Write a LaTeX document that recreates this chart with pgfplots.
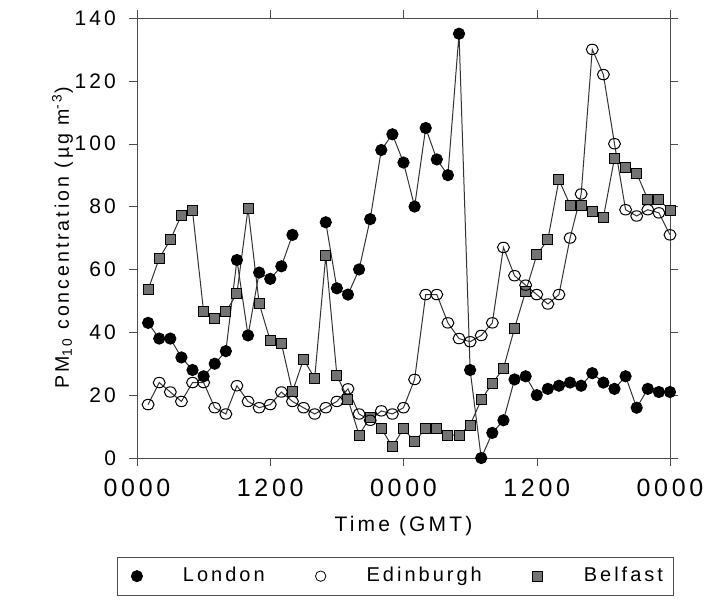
\documentclass[border=0pt]{standalone}
\usepackage{pgfplots}
\pgfplotsset{compat=1.18}
\usepackage{fontspec}
\setmainfont{Liberation Sans}[LetterSpace=15]

\begin{document}
\begin{tikzpicture}
  \useasboundingbox (-68.5pt,-74pt) rectangle (287.5pt,229pt);
  \begin{axis}[
    scale only axis,
    width=266.5pt, height=220pt,
    xmin=0, xmax=48,
    ymin=0, ymax=140,
    xtick={0,12,24,36,48},
    xticklabels={0000,1200,0000,1200,0000},
    ytick={0,20,...,140},
    tick align=outside,
    major tick length=4pt,
    tick style={black!70},
    axis line style={black!70},
    /pgf/number format/assume math mode=true,
    xticklabel style={font=\fontsize{12.5}{14}\selectfont, yshift=-3pt},
    yticklabel style={font=\fontsize{10.5}{12}\selectfont, xshift=-3pt},
    xlabel={Time (GMT)},
    xlabel style={font=\fontsize{10.5}{12}\selectfont, yshift=-3pt},
    ylabel={PM\textsubscript{10} concentration (µg m\textsuperscript{-3})},
    ylabel style={font=\fontsize{9.8}{11}\selectfont, yshift=-6pt},
    unbounded coords=jump,
    clip=false,
    legend columns=3,
    legend style={at={(0.484,-0.225)}, anchor=north, draw=black!70,
      font=\fontsize{10}{12}\selectfont, inner ysep=3pt,
      /tikz/every even column/.append style={column sep=19pt}},
    legend image code/.code={\path[draw=none] (0pt,0pt) -- (28pt,0pt); \draw[#1] plot coordinates {(7pt,0pt)};},
  ]
  \addlegendimage{only marks, mark=*, mark size=2.8pt, mark options={fill=black, draw=black}}
  \addlegendentry{London}
  \addlegendimage{only marks, mark=o, mark size=2.6pt, mark options={fill=white, draw=black}}
  \addlegendentry{Edinburgh}
  \addlegendimage{only marks, mark=square*, mark size=2.5pt, mark options={fill=black!55, draw=black}}
  \addlegendentry{Belfast}

  % Belfast
  \addplot[forget plot, black!80, line width=0.5pt, mark=square*, mark size=2.5pt,
    mark options={fill=black!55, draw=black}]
  coordinates {
    (1,53.5)(2,63.5)(3,69.4)(4,77.3)(5,78.6)(6,46.5)(7,44.4)(8,46.5)(9,52.4)(10,79.4)
    (11,49.2)(12,37.3)(13,36.5)(14,21.1)(15,31.4)(16,25.4)(17,64.3)(18,26.4)(19,18.7)(20,7.3)
    (21,13)(22,9.4)(23,3.6)(24,9.4)(25,5.2)(26,9.4)(27,9.4)(28,7.3)(29,7.3)(30,10.5)
    (31,18.5)(32,23.8)(33,28.5)(34,41.3)(35,53)(36,64.6)(37,69.5)(38,88.5)(39,80.5)(40,80.5)
    (41,78.5)(42,76.5)(43,95.4)(44,92.5)(45,90.6)(46,82.3)(47,82.3)(48,78.7)
  };
  % Edinburgh
  \addplot[forget plot, black!80, line width=0.5pt, mark=o, mark size=2.6pt,
    mark options={fill=white, draw=black, xscale=1.15}]
  coordinates {
    (1,17)(2,24)(3,21)(4,18)(5,24)(6,24)(7,16)(8,14)(9,23)(10,18)
    (11,16)(12,17)(13,21)(14,18)(15,16)(16,14)(17,16)(18,18)(19,22)(20,14)
    (21,12)(22,15)(23,14)(24,16)(25,25)(26,52)(27,52)(28,43)(29,38)(30,37)
    (31,39)(32,43)(33,67)(34,58)(35,55)(36,52)(37,49)(38,52)(39,70)(40,84)
    (41,130)(42,122)(43,100)(44,79)(45,77)(46,79)(47,78)(48,71)
  };
  % London
  \addplot[forget plot, black!80, line width=0.5pt, mark=*, mark size=2.8pt,
    mark options={fill=black, draw=black}]
  coordinates {
    (1,43)(2,38)(3,38)(4,32)(5,28)(6,26)(7,30)(8,34)(9,63)(10,39)
    (11,59)(12,57)(13,61)(14,71)(15,nan)(16,nan)(17,75)(18,54)(19,52)(20,60)
    (21,76)(22,98)(23,103)(24,94)(25,80)(26,105)(27,95)(28,90)(29,135)(30,28)
    (31,0)(32,8)(33,12)(34,25)(35,26)(36,20)(37,22)(38,23)(39,24)(40,23)
    (41,27)(42,24)(43,22)(44,26)(45,16)(46,22)(47,21)(48,21)
  };
  \end{axis}
\end{tikzpicture}
\end{document}
